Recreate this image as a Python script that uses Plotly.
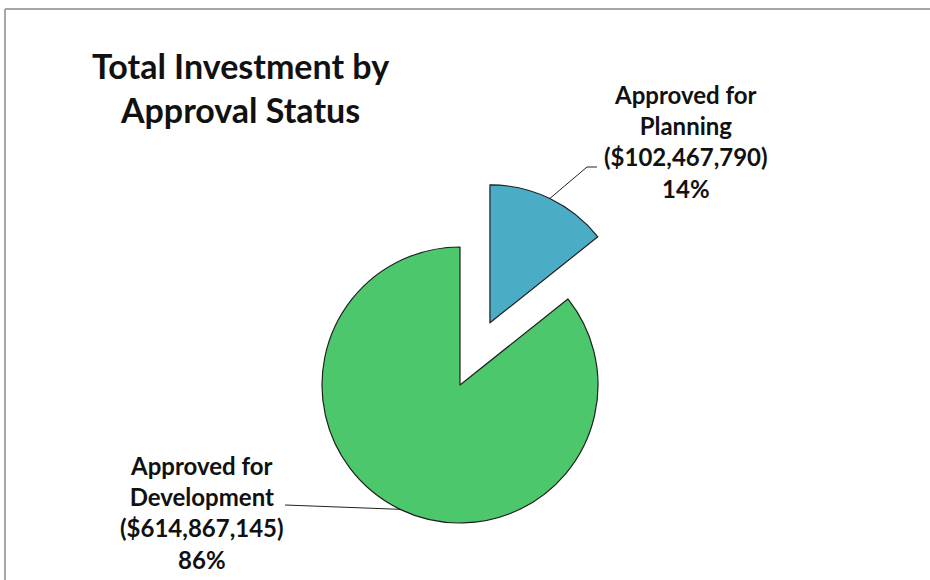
import math
import plotly.graph_objects as go

# ---- data -------------------------------------------------------------
categories = ["Approved for Planning", "Approved for Development"]
investment = [102467790, 614867145]
slice_colors = ["#4BACC6", "#4CC76C"]
title_lines = ["Total Investment by", "Approval Status"]

# ---- layout constants (pixels, origin top-left) -----------------------
W, H = 930, 580
CX, CY = 460, 385          # pie centre
R = 138                    # pie radius
EXPLODE = 0.5              # planning slice pulled out by half a radius
FONT = "Lato"
INK = "#111111"
OUTLINE = "#1f1f1f"
TRANSPARENT = "rgba(0,0,0,0)"

# label block centres and leader-line elbows
label_pos = [(686, 141), (202, 512)]
leader_elbow = [[(587, 167), (597, 167)], [(285, 505)]]


def px(x):
    return x / W


def py(y):
    return 1 - y / H


def domain(cx, cy, r):
    return dict(x=[px(cx - r), px(cx + r)], y=[py(cy + r), py(cy - r)])


total = sum(investment)
shares = [v / total for v in investment]

# mid angle of every slice, clockwise from 12 o'clock (degrees)
mids, start = [], 0.0
for s in shares:
    mids.append(start + s * 180.0)
    start += s * 360.0

# exploded slice centre
a0 = math.radians(mids[0])
ecx = CX + EXPLODE * R * math.sin(a0)
ecy = CY - EXPLODE * R * math.cos(a0)
centres = [(ecx, ecy), (CX, CY)]

fig = go.Figure()

# one pie per visible slice so the planning wedge can sit apart
for i, (cx, cy) in enumerate(centres):
    colors = [c if j == i else TRANSPARENT for j, c in enumerate(slice_colors)]
    widths = [1.2 if j == i else 0 for j in range(len(categories))]
    fig.add_trace(go.Pie(
        labels=categories,
        values=investment,
        sort=False,
        direction="clockwise",
        rotation=0,
        textinfo="none",
        hoverinfo="skip",
        showlegend=False,
        marker=dict(colors=colors, line=dict(color=OUTLINE, width=widths)),
        domain=domain(cx, cy, R),
    ))

shapes = []
annotations = []

# chart frame: top and left edges (the rest runs off the page)
frame = dict(color="#a6a6a6", width=2)
shapes.append(dict(type="line", xref="paper", yref="paper",
                   x0=px(5), y0=py(9), x1=1, y1=py(9), line=frame))
shapes.append(dict(type="line", xref="paper", yref="paper",
                   x0=px(5), y0=py(9), x1=px(5), y1=0, line=frame))

# data labels with leader lines running from each slice's arc midpoint
for i, name in enumerate(categories):
    cx, cy = centres[i]
    a = math.radians(mids[i])
    ax_ = cx + R * math.sin(a)
    ay_ = cy - R * math.cos(a)
    pts = [(ax_, ay_)] + leader_elbow[i]
    for (x0, y0), (x1, y1) in zip(pts[:-1], pts[1:]):
        shapes.append(dict(type="line", xref="paper", yref="paper",
                           x0=px(x0), y0=py(y0), x1=px(x1), y1=py(y1),
                           line=dict(color="#222222", width=1)))
    text = (name.replace("for ", "for<br>") +
            f"<br>(${investment[i]:,})<br>{round(shares[i] * 100):.0f}%")
    lx, ly = label_pos[i]
    annotations.append(dict(x=px(lx), y=py(ly), xref="paper", yref="paper",
                            text=text, showarrow=False, align="center",
                            xanchor="center", yanchor="middle",
                            font=dict(family=FONT, size=24, color=INK,
                                      weight="bold")))

# title
annotations.append(dict(x=px(240), y=py(43), xref="paper", yref="paper",
                        text="<br>".join(title_lines), showarrow=False,
                        align="center", xanchor="center", yanchor="top",
                        font=dict(family=FONT, size=34, color=INK, weight="bold")))

fig.update_layout(
    width=W, height=H,
    margin=dict(l=0, r=0, t=0, b=0),
    paper_bgcolor="white",
    plot_bgcolor="white",
    shapes=shapes,
    annotations=annotations,
)

fig.write_html("out.html")
